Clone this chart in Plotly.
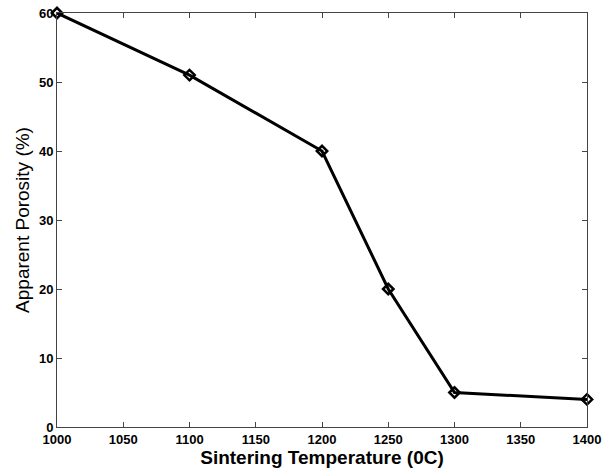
import plotly.graph_objects as go

temperature = [1000, 1100, 1200, 1250, 1300, 1400]
porosity = [60, 51, 40, 20, 5, 4]
x_ticks = [1000, 1050, 1100, 1150, 1200, 1250, 1300, 1350, 1400]
y_ticks = [0, 10, 20, 30, 40, 50, 60]

fig = go.Figure()
fig.add_trace(go.Scatter(
    x=temperature, y=porosity, mode="lines+markers",
    line=dict(color="black", width=3),
    marker=dict(symbol="diamond-open", size=8, color="black", line=dict(width=2.5)),
    cliponaxis=False, showlegend=False,
))

tickfont = dict(family="Liberation Sans, Arial, sans-serif", size=13, color="black", weight="bold")
fig.update_layout(
    width=608, height=471,
    margin=dict(l=57, r=21, t=13, b=44),
    paper_bgcolor="white", plot_bgcolor="white",
    xaxis=dict(
        range=[1000, 1400], tickvals=x_ticks, ticks="inside", ticklen=5,
        tickcolor="#444", linecolor="#444", linewidth=1, mirror="allticks",
        showgrid=False, zeroline=False, tickfont=tickfont, automargin=False,
        title=dict(text="<b>Sintering Temperature (0C)</b>",
                   font=dict(family="Liberation Sans, Arial, sans-serif", size=19, color="black"),
                   standoff=2),
    ),
    yaxis=dict(
        range=[0, 60], tickvals=y_ticks, ticks="inside", ticklen=5,
        tickcolor="#444", linecolor="#444", linewidth=1, mirror="allticks",
        showgrid=False, zeroline=False, tickfont=tickfont, automargin=False,
        title=dict(text="Apparent Porosity (%)",
                   font=dict(family="Liberation Sans, Arial, sans-serif", size=19, color="black"),
                   standoff=4),
    ),
)
fig.write_html("out.html")
